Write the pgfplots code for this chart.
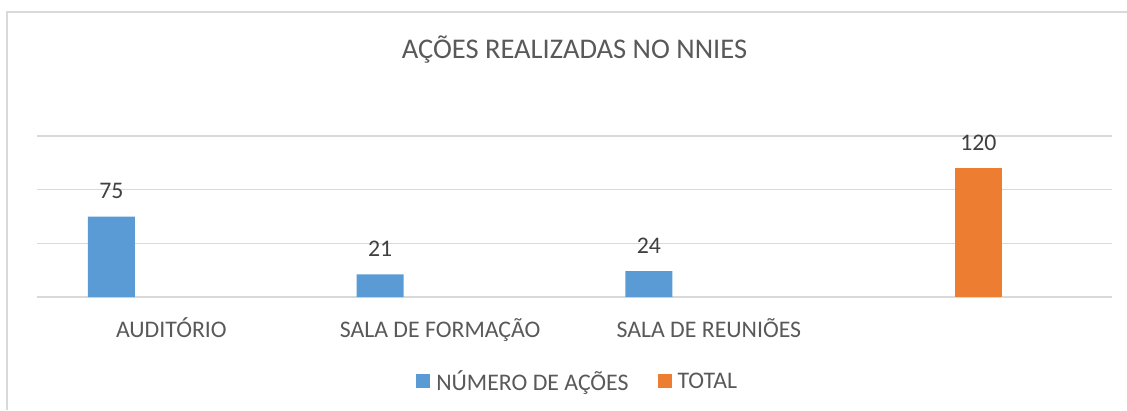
\documentclass[border=0pt]{standalone}
\usepackage{pgfplots}
\pgfplotsset{compat=1.18}
\usepackage{fontspec}
\setmainfont{Carlito}
\definecolor{cblue}{HTML}{5B9BD5}
\definecolor{corange}{HTML}{ED7D31}
\definecolor{cgrid}{HTML}{D9D9D9}
\definecolor{ctext}{HTML}{595959}
\definecolor{clabel}{HTML}{404040}
\begin{document}
\begin{tikzpicture}[x=1pt,y=1pt]
\useasboundingbox (0,0) rectangle (1127,-410);
\draw[cgrid, line width=1.2pt] (7,-410) -- (7,-12) -- (1127,-12);
\begin{axis}[
  at={(37pt,-297pt)}, anchor=south west,
  scale only axis, width=1075pt, height=161pt,
  xmin=-0.5, xmax=3.5, ymin=0, ymax=150,
  ybar, bar width=0.175,
  axis line style={draw=none}, tick style={draw=none},
  ytick={0,50,100,150}, yticklabels={},
  ymajorgrids, major grid style={cgrid, line width=1.2pt},
  xtick={0,1,2,3},
  xticklabels={AUDITÓRIO, SALA DE FORMAÇÃO, SALA DE REUNIÕES, {}},
  xticklabel style={anchor=base, yshift=-36.5pt, text=ctext, font=\fontsize{23.8}{26}\selectfont},
  /pgf/number format/assume math mode=true,
  nodes near coords,
  nodes near coords style={anchor=base, yshift=18pt, text=clabel, font=\fontsize{23.8}{26}\selectfont},
  title={AÇÕES REALIZADAS NO NNIES},
  title style={at={(axis description cs:0.5,1)}, anchor=base, yshift=72pt, text=ctext, font=\fontsize{28.5}{30}\selectfont},
  legend columns=2,
  legend style={draw=none, fill=none, at={(axis description cs:0.503,-0.522)}, anchor=center,
     font=\fontsize{23.8}{26}\selectfont, text=ctext,
     /tikz/every odd column/.append style={column sep=4pt},
     /tikz/every even column/.append style={column sep=27pt}},
  legend image code/.code={\fill[#1] (0pt,-7pt) rectangle (14pt,7pt);},
]
\addplot[fill=cblue, draw=none, bar shift=-0.223] coordinates {(0,75) (1,21) (2,24)};
\addlegendentry{NÚMERO DE AÇÕES}
\addplot[fill=corange, draw=none, bar shift=0.003] coordinates {(3,120)};
\addlegendentry{TOTAL}
\end{axis}
\end{tikzpicture}
\end{document}
